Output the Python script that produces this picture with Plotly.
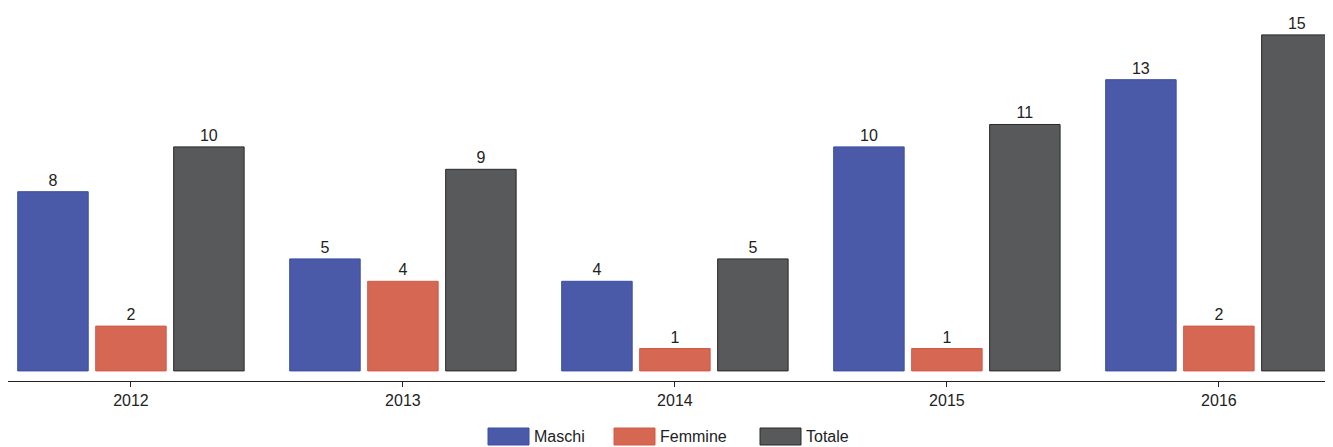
import plotly.graph_objects as go

years = ["2012", "2013", "2014", "2015", "2016"]
maschi = [8, 5, 4, 10, 13]
femmine = [2, 4, 1, 1, 2]
totale = [10, 9, 5, 11, 15]
series_names = ["Maschi", "Femmine", "Totale"]
fill_colors = ["#4a5aa8", "#d66753", "#58595b"]
line_colors = ["#3a4ea6", "#d25a45", "#2a2a2a"]

FONT = "Liberation Sans, Arial, sans-serif"
# the page body adds an 8px offset, so figure coords = screen coords - 8
W, H = 1333, 439
ML, MR, MT = 0, 0, 0
PLOT_BOTTOM = 373
MB = H - PLOT_BOTTOM

fig = go.Figure()
for name, vals, fc, lc in zip(series_names, [maschi, femmine, totale], fill_colors, line_colors):
    fig.add_trace(go.Bar(
        x=years, y=vals, name=name,
        marker=dict(color=fc, line=dict(color=lc, width=1)),
        text=[str(v) for v in vals], textposition="outside",
        textfont=dict(family=FONT, size=16, color="#222222"),
        cliponaxis=False, showlegend=False,
    ))

# custom legend (large boxes like the reference), figure-pixel positions
legend_boxes = [(480, 521), (606, 647), (752, 793)]
box_y0, box_y1 = 420, 437
PH = PLOT_BOTTOM - MT
PW = W - ML - MR
for (x0, x1), name, fc, lc in zip(legend_boxes, series_names, fill_colors, line_colors):
    fig.add_shape(type="rect", xref="paper", yref="paper",
                  x0=(x0 - ML) / PW, x1=(x1 - ML) / PW,
                  y0=-(box_y1 - PLOT_BOTTOM) / PH, y1=-(box_y0 - PLOT_BOTTOM) / PH,
                  fillcolor=fc, line=dict(color=lc, width=1))
    fig.add_annotation(xref="paper", yref="paper",
                       x=(x1 + 3 - ML) / PW,
                       y=-((box_y0 + box_y1) / 2 - PLOT_BOTTOM) / PH,
                       text=name, showarrow=False, xanchor="left", yanchor="middle",
                       font=dict(family=FONT, size=16, color="#222222"))

fig.update_layout(
    width=W, height=H,
    margin=dict(l=ML, r=MR, t=MT, b=MB),
    barmode="group", bargap=0.14, bargroupgap=0.096,
    plot_bgcolor="white", paper_bgcolor="white",
    font=dict(family=FONT, size=16, color="#222222"),
    xaxis=dict(range=[-0.452, 4.449], showline=True, linecolor="#222222", linewidth=1,
               ticks="outside", ticklen=5, tickcolor="#222222", showgrid=False,
               tickfont=dict(family=FONT, size=16, color="#222222")),
    yaxis=dict(range=[-0.45, 16.2], visible=False, showgrid=False, zeroline=False),
)

fig.write_html("out.html")
